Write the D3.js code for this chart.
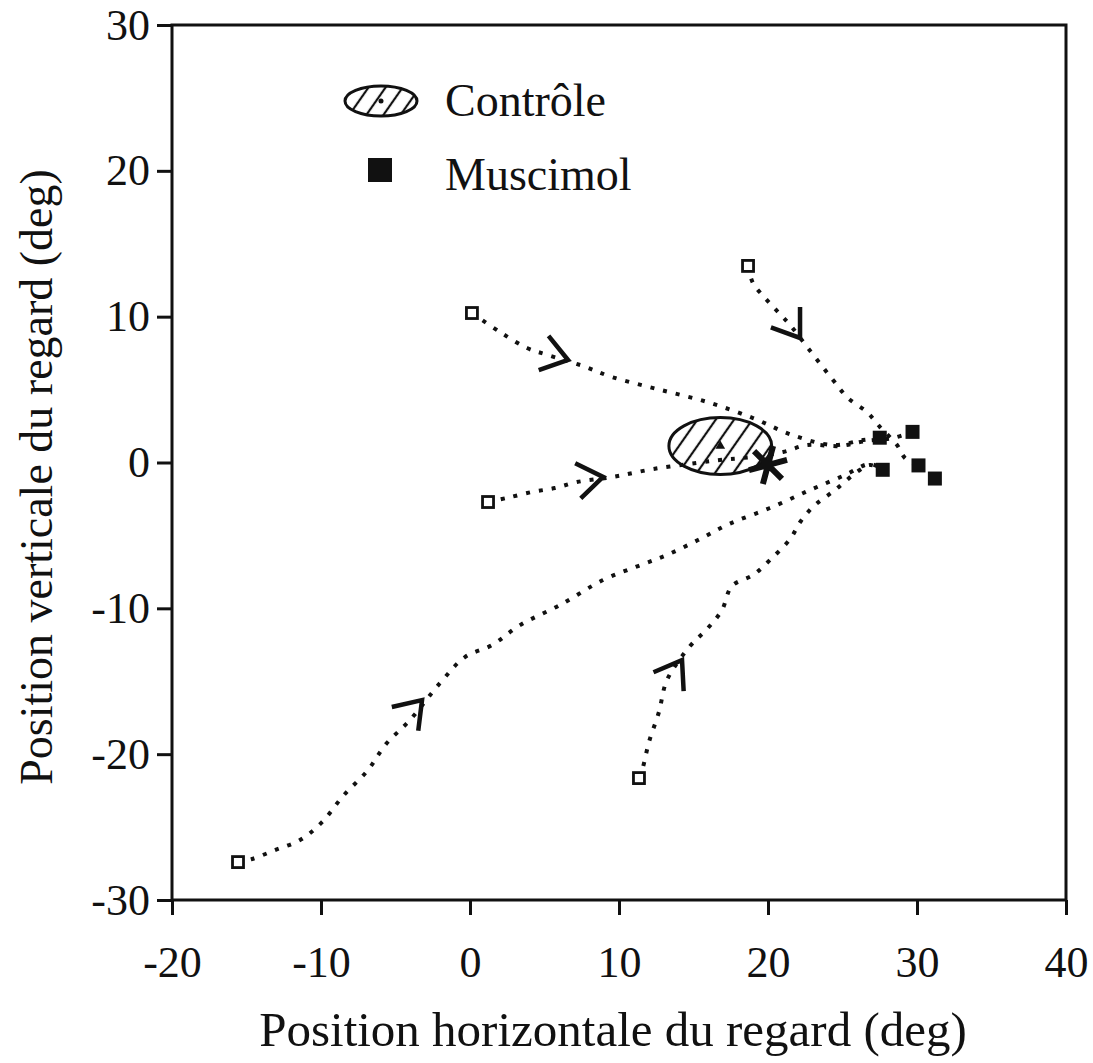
<!DOCTYPE html>
<html>
<head>
<meta charset="utf-8">
<script src="https://cdn.jsdelivr.net/npm/d3@7"></script>
<style>
  html, body { margin: 0; padding: 0; background: #fff; }
  svg { display: block; }
  text { font-family: "Liberation Serif", "Times New Roman", serif; fill: #111; }
</style>
</head>
<body>
<svg id="chart" width="1093" height="1063"></svg>
<script>
// ---- data ----
const xTicks = [-20, -10, 0, 10, 20, 30, 40];
const yTicks = [-30, -20, -10, 0, 10, 20, 30];
const xTitle = "Position horizontale du regard (deg)";
const yTitle = "Position verticale du regard (deg)";
const legendLabels = ["Contrôle", "Muscimol"];

// trajectories (muscimol condition), start -> end
const traj1 = [[0.13,10.25],[2.01,8.95],[3.83,7.85],[5.23,7.37],[7.58,6.62],[9.53,5.86],[12.55,5.04],[15.91,4.15],[18.99,3.05],[21.61,1.89],[24.36,1.20],[26.38,1.54],[27.52,1.68]];
const traj2 = [[18.66,13.48],[18.99,12.31],[19.80,11.28],[20.67,10.32],[21.48,9.43],[22.68,7.85],[24.36,5.66],[25.37,4.42],[26.64,3.46],[27.52,2.43],[28.66,1.20],[29.19,0.31],[30.07,-0.24]];
const traj3 = [[1.21,-2.71],[2.48,-2.43],[4.16,-2.02],[5.70,-1.75],[7.18,-1.34],[9.60,-0.99],[12.28,-0.45],[15.23,-0.03],[16.78,0.17],[18.32,0.31],[21.01,0.72],[22.62,1.20],[24.83,1.13],[26.51,1.47],[28.39,1.68],[29.66,2.09]];
const traj4 = [[11.34,-21.64],[11.61,-20.88],[12.01,-19.17],[12.68,-17.11],[13.22,-14.92],[14.77,-12.59],[15.97,-11.35],[16.91,-10.12],[17.58,-8.47],[18.99,-7.72],[20.13,-6.69],[21.48,-5.25],[22.21,-4.01],[23.15,-2.92],[24.50,-1.89],[25.97,-0.65],[26.85,-0.17],[27.72,-0.51]];
const traj5 = [[-15.57,-27.40],[-14.63,-27.19],[-13.09,-26.58],[-11.41,-25.89],[-9.93,-24.66],[-8.52,-22.87],[-6.85,-21.09],[-5.64,-19.31],[-4.03,-17.66],[-2.01,-15.12],[-0.34,-13.34],[1.48,-12.52],[3.36,-11.15],[6.04,-9.77],[8.93,-8.06],[11.28,-7.10],[13.22,-6.34],[15.30,-5.32],[17.38,-4.22],[20.13,-3.12],[22.82,-1.89],[25.17,-0.86],[26.85,-0.10],[27.72,-0.51]];
const trajectories = [traj1, traj2, traj3, traj4, traj5];

// start positions (open squares)
const startX = [0.13, 18.66, 1.21, 11.34, -15.57];
const startY = [10.25, 13.48, -2.71, -21.64, -27.40];
// muscimol end positions (filled squares)
const muscX = [27.5, 29.7, 27.7, 30.1, 31.2];
const muscY = [1.7, 2.1, -0.5, -0.2, -1.1];
// direction chevrons: tip position and heading (deg, screen, clockwise from +x)
const chevX = [6.58, 22.15, 8.93, 14.23, -3.22];
const chevY = [7.03, 8.54, -0.99, -13.55, -16.29];
const chevHeading = [16, 55, -9, -58, -48];
// control ellipse (mean and spread)
const controlCenter = [16.8, 1.13];
const controlRadius = [3.45, 1.95];
// target position (asterisk)
const target = [20.0, -0.17];

// ---- layout ----
const svg = d3.select("#chart");
const m = { left: 172, right: 1066, top: 25, bottom: 900 };
const x = d3.scaleLinear().domain([-20, 40]).range([m.left, m.right]);
const y = d3.scaleLinear().domain([-30, 30]).range([m.bottom, m.top]);
const TICK_FONT = 44, TITLE_FONT_X = 49, TITLE_FONT_Y = 46, LEGEND_FONT = 46;

// hatch patterns
const defs = svg.append("defs");
defs.append("pattern").attr("id", "hatch").attr("patternUnits", "userSpaceOnUse")
  .attr("width", 15).attr("height", 15).attr("patternTransform", "rotate(35)")
  .append("line").attr("x1", 2).attr("y1", 0).attr("x2", 2).attr("y2", 15)
  .attr("stroke", "#111").attr("stroke-width", 2.2);
defs.append("pattern").attr("id", "hatchSmall").attr("patternUnits", "userSpaceOnUse")
  .attr("width", 14).attr("height", 14).attr("patternTransform", "rotate(35)")
  .append("line").attr("x1", 2).attr("y1", 0).attr("x2", 2).attr("y2", 14)
  .attr("stroke", "#111").attr("stroke-width", 2.2);

// axes
const xAxis = d3.axisBottom(x).tickValues(xTicks).tickSize(15).tickSizeOuter(0).tickPadding(31).tickFormat(d => String(d));
const yAxis = d3.axisLeft(y).tickValues(yTicks).tickSize(15).tickSizeOuter(0).tickPadding(7).tickFormat(d => String(d));

const gx = svg.append("g").attr("transform", `translate(0,${m.bottom})`).call(xAxis);
const gy = svg.append("g").attr("transform", `translate(${m.left},0)`).call(yAxis);
[gx, gy].forEach(g => {
  g.select(".domain").remove();
  g.selectAll(".tick line").attr("stroke", "#111").attr("stroke-width", 3);
  g.selectAll(".tick text").attr("font-size", TICK_FONT).attr("font-family", "Liberation Serif").attr("fill", "#111");
});

// frame
svg.append("rect").attr("x", m.left).attr("y", m.top)
  .attr("width", m.right - m.left).attr("height", m.bottom - m.top)
  .attr("fill", "none").attr("stroke", "#111").attr("stroke-width", 3);

// axis titles
svg.append("text").attr("x", 613).attr("y", 1046)
  .attr("text-anchor", "middle").attr("font-size", TITLE_FONT_X).text(xTitle);
svg.append("text").attr("transform", `translate(52,477) rotate(-90)`)
  .attr("text-anchor", "middle").attr("font-size", TITLE_FONT_Y).text(yTitle);

const plot = svg.append("g");

// control ellipse
const cx = x(controlCenter[0]), cy = y(controlCenter[1]);
const rx = x(controlCenter[0] + controlRadius[0]) - cx;
const ry = cy - y(controlCenter[1] + controlRadius[1]);
plot.append("ellipse").attr("cx", cx).attr("cy", cy).attr("rx", rx).attr("ry", ry)
  .attr("fill", "url(#hatch)").attr("stroke", "#111").attr("stroke-width", 3);
plot.append("path").attr("transform", `translate(${cx},${cy})`)
  .attr("d", d3.symbol(d3.symbolTriangle, 40)()).attr("fill", "#111");

// trajectories
const line = d3.line().x(d => x(d[0])).y(d => y(d[1])).curve(d3.curveCatmullRom.alpha(0.5));
plot.selectAll(".traj").data(trajectories).join("path").attr("class", "traj")
  .attr("d", line).attr("fill", "none").attr("stroke", "#111")
  .attr("stroke-width", 4).attr("stroke-dasharray", "4 9");

// chevrons
const armLen = 31, half = 35;
chevX.forEach((cxv, i) => {
  const tx = x(cxv), ty = y(chevY[i]);
  const back = (chevHeading[i] + 180) * Math.PI / 180;
  const a1 = back + half * Math.PI / 180, a2 = back - half * Math.PI / 180;
  const p = d3.path();
  p.moveTo(tx + armLen * Math.cos(a1), ty + armLen * Math.sin(a1));
  p.lineTo(tx, ty);
  p.lineTo(tx + armLen * Math.cos(a2), ty + armLen * Math.sin(a2));
  plot.append("path").attr("d", p.toString()).attr("fill", "none")
    .attr("stroke", "#111").attr("stroke-width", 4.5).attr("stroke-linejoin", "miter");
});

// start squares
startX.forEach((sx, i) => {
  plot.append("rect").attr("x", x(sx) - 5.5).attr("y", y(startY[i]) - 5.5)
    .attr("width", 11).attr("height", 11).attr("fill", "#fff")
    .attr("stroke", "#111").attr("stroke-width", 2.8);
});

// muscimol squares
muscX.forEach((mx, i) => {
  plot.append("rect").attr("x", x(mx) - 7).attr("y", y(muscY[i]) - 7)
    .attr("width", 14).attr("height", 14).attr("fill", "#111");
});

// target asterisk
plot.append("path").attr("transform", `translate(${x(target[0])},${y(target[1])}) rotate(15)`)
  .attr("d", d3.symbol(d3.symbolAsterisk, 1100)()).attr("fill", "none")
  .attr("stroke", "#111").attr("stroke-width", 6);

// legend
const lg = svg.append("g");
lg.append("ellipse").attr("cx", 381).attr("cy", 101).attr("rx", 36).attr("ry", 15)
  .attr("fill", "url(#hatchSmall)").attr("stroke", "#111").attr("stroke-width", 3);
lg.append("circle").attr("cx", 381).attr("cy", 101).attr("r", 2.5).attr("fill", "#111");
lg.append("text").attr("x", 445).attr("y", 116).attr("font-size", LEGEND_FONT).text(legendLabels[0]);
lg.append("rect").attr("x", 368).attr("y", 158).attr("width", 24).attr("height", 24).attr("fill", "#111");
lg.append("text").attr("x", 445).attr("y", 190).attr("font-size", LEGEND_FONT).text(legendLabels[1]);
</script>
</body>
</html>
